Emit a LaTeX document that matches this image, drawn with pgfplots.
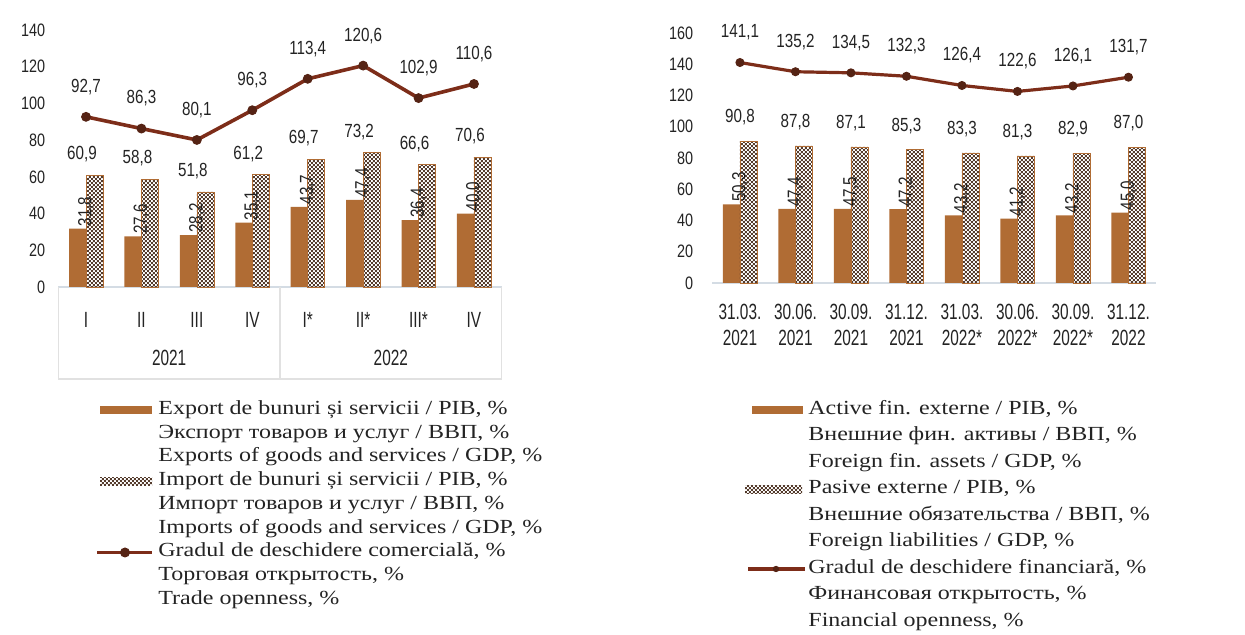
\documentclass[border=0pt]{standalone}
\usepackage{fontspec}
\setmainfont{Liberation Serif}[FakeStretch=1.2]
\newfontfamily\numfont{Liberation Sans}[FakeStretch=0.8]
\newfontfamily\catfont{Liberation Sans}[FakeStretch=0.7]
\usepackage{pgfplots}
\pgfplotsset{compat=1.18}
\usetikzlibrary{patterns}

\definecolor{copper}{RGB}{176,108,52}
\definecolor{checkbrown}{RGB}{85,60,45}
\definecolor{linebrown}{RGB}{125,45,25}
\definecolor{markbrown}{RGB}{85,35,20}
\definecolor{axisgray}{RGB}{212,220,228}
\definecolor{boxgray}{RGB}{225,225,225}
\definecolor{txt}{RGB}{35,35,35}

\pgfdeclarepatternformonly{finecheck}{\pgfpointorigin}{\pgfpoint{2.2pt}{2.2pt}}{\pgfpoint{2.2pt}{2.2pt}}{%
  \pgfpathrectangle{\pgfpointorigin}{\pgfpoint{1.1pt}{1.1pt}}%
  \pgfpathrectangle{\pgfpoint{1.1pt}{1.1pt}}{\pgfpoint{1.1pt}{1.1pt}}%
  \pgfusepath{fill}}

\newcommand\legfont{\fontsize{10}{12}\selectfont}
\newcommand\lblfont{\numfont\fontsize{9.5}{10}\selectfont}

\pgfplotsset{
  common/.style={
    scale only axis, anchor=south west, clip=false,
    xmin=-0.5, xmax=7.5, ymin=0,
    axis x line=bottom, axis y line=left,
    x axis line style={draw=axisgray, line width=0.8pt, -},
    y axis line style={draw=none},
    major tick length=0pt,
    xtick={0,...,7},
    yticklabel style={font=\numfont\fontsize{9}{10}\selectfont, text=txt, anchor=east},
    /pgf/number format/.cd, use comma, fixed, fixed zerofill, precision=1, assume math mode=true,
  },
  expbar/.style={ybar, bar width=8.5pt, bar shift=-4.25pt, fill=copper, draw=none,
    nodes near coords,
    nodes near coords style={font=\lblfont, text=txt, rotate=90, anchor=west, inner sep=1pt}},
  impbar/.style={ybar, bar width=8.5pt, bar shift=4.25pt, pattern=finecheck, pattern color=checkbrown,
    draw=copper, line width=0.3pt,
    nodes near coords,
    nodes near coords style={font=\lblfont, text=txt, anchor=center}},
}

\begin{document}
\begin{tikzpicture}
\useasboundingbox (0,0) rectangle (622.5pt,317.5pt);

% ---------------- Left chart ----------------
\begin{axis}[common,
  at={(29.15pt,174pt)},
  width=221.7pt, height=128.5pt,
  ymax=140,
  ytick={0,20,...,140}, yticklabels={0,20,40,60,80,100,120,140},
  xticklabels={I,II,III,IV,I*,II*,III*,IV},
  xticklabel style={font=\catfont\fontsize{11}{12}\selectfont, text=txt, anchor=center, yshift=-16.5pt},
  yticklabel style={xshift=-3pt},
]
\addplot[expbar] coordinates {(0,31.8) (1,27.6) (2,28.2) (3,35.1) (4,43.7) (5,47.4) (6,36.4) (7,40.0)};
\addplot[impbar, nodes near coords style={yshift=10.5pt, xshift=-2pt}]
  coordinates {(0,60.9) (1,58.8) (2,51.8) (3,61.2) (4,69.7) (5,73.2) (6,66.6) (7,70.6)};
\addplot[color=linebrown, line width=1.8pt, mark=*, mark size=2.2pt,
  mark options={fill=markbrown, draw=markbrown, line width=0.5pt},
  nodes near coords, nodes near coords style={font=\lblfont, text=txt, anchor=center, yshift=15pt}]
  coordinates {(0,92.7) (1,86.3) (2,80.1) (3,96.3) (4,113.4) (5,120.6) (6,102.9) (7,110.6)};
\draw[boxgray, line width=0.6pt] (axis cs:-0.5,0) -- ++(0pt,-46pt);
\draw[boxgray, line width=0.6pt] (axis cs:3.5,0) -- ++(0pt,-46pt);
\draw[boxgray, line width=0.6pt] (axis cs:7.5,0) -- ++(0pt,-46pt);
\draw[boxgray, line width=0.6pt] ([yshift=-46pt]axis cs:-0.5,0) -- ([yshift=-46pt]axis cs:7.5,0);
\node[font=\catfont\fontsize{11}{12}\selectfont, text=txt] at ([yshift=-35.5pt]axis cs:1.5,0) {2021};
\node[font=\catfont\fontsize{11}{12}\selectfont, text=txt] at ([yshift=-35.5pt]axis cs:5.5,0) {2022};
\end{axis}

% ---------------- Right chart ----------------
\begin{axis}[common,
  at={(356.1pt,176pt)},
  width=222pt, height=125pt,
  ymax=160,
  ytick={0,20,...,160}, yticklabels={0,20,40,60,80,100,120,140,160},
  xticklabels={31.03.\\2021, 30.06.\\2021, 30.09.\\2021, 31.12.\\2021, 31.03.\\2022*, 30.06.\\2022*, 30.09.\\2022*, 31.12.\\2022},
  xticklabel style={font=\catfont\fontsize{11}{13}\selectfont, text=txt, align=center, anchor=center, yshift=-21pt},
  yticklabel style={xshift=-6pt},
]
\addplot[expbar] coordinates {(0,50.3) (1,47.4) (2,47.5) (3,47.2) (4,43.2) (5,41.2) (6,43.2) (7,45.0)};
\addplot[impbar, nodes near coords style={yshift=12pt}]
  coordinates {(0,90.8) (1,87.8) (2,87.1) (3,85.3) (4,83.3) (5,81.3) (6,82.9) (7,87.0)};
\addplot[color=linebrown, line width=1.6pt, mark=*, mark size=2pt,
  mark options={fill=markbrown, draw=markbrown, line width=0.5pt},
  nodes near coords, nodes near coords style={font=\lblfont, text=txt, anchor=center, yshift=15pt}]
  coordinates {(0,141.1) (1,135.2) (2,134.5) (3,132.3) (4,126.4) (5,122.6) (6,126.1) (7,131.7)};
\end{axis}

% ---------------- Left legend ----------------
\fill[copper] (50pt,110.5pt) rectangle (76pt,114.5pt);
\fill[pattern=finecheck, pattern color=checkbrown] (50pt,74.9pt) rectangle (76pt,78.9pt);
\draw[linebrown, line width=1.8pt] (48.5pt,41.25pt) -- (76pt,41.25pt);
\fill[markbrown] (62.5pt,41.25pt) circle (2.5pt);
\begin{scope}[every node/.style={anchor=base west, inner sep=0pt, font=\legfont, text=txt}]
\node at (79pt,110.25pt) {Export de bunuri și servicii / PIB, \%};
\node at (79pt,98.375pt) {Экспорт товаров и услуг / ВВП, \%};
\node at (79pt,86.5pt) {Exports of goods and services / GDP, \%};
\node at (79pt,74.625pt) {Import de bunuri și servicii / PIB, \%};
\node at (79pt,62.75pt) {Импорт товаров и услуг / ВВП, \%};
\node at (79pt,50.875pt) {Imports of goods and services / GDP, \%};
\node at (79pt,39pt) {Gradul de deschidere comercială, \%};
\node at (79pt,27.125pt) {Торговая открытость, \%};
\node at (79pt,15.25pt) {Trade openness, \%};
\end{scope}

% ---------------- Right legend ----------------
\fill[copper] (376pt,110.5pt) rectangle (401.5pt,114.5pt);
\fill[pattern=finecheck, pattern color=checkbrown] (372.5pt,70.75pt) rectangle (401pt,74.75pt);
\draw[linebrown, line width=1.6pt] (374pt,33pt) -- (402.5pt,33pt);
\fill[markbrown] (388pt,33pt) circle (1.6pt);
\begin{scope}[every node/.style={anchor=base west, inner sep=0pt, font=\legfont, text=txt}]
\node at (404pt,110.25pt) {Active fin. externe / PIB, \%};
\node at (404pt,97pt) {Внешние фин. активы / ВВП, \%};
\node at (404pt,83.75pt) {Foreign fin. assets / GDP, \%};
\node at (404pt,70.5pt) {Pasive externe / PIB, \%};
\node at (404pt,57.25pt) {Внешние обязательства / ВВП, \%};
\node at (404pt,44pt) {Foreign liabilities / GDP, \%};
\node at (404pt,30.75pt) {Gradul de deschidere financiară, \%};
\node at (404pt,17.5pt) {Финансовая открытость, \%};
\node at (404pt,4.25pt) {Financial openness, \%};
\end{scope}
\end{tikzpicture}
\end{document}
